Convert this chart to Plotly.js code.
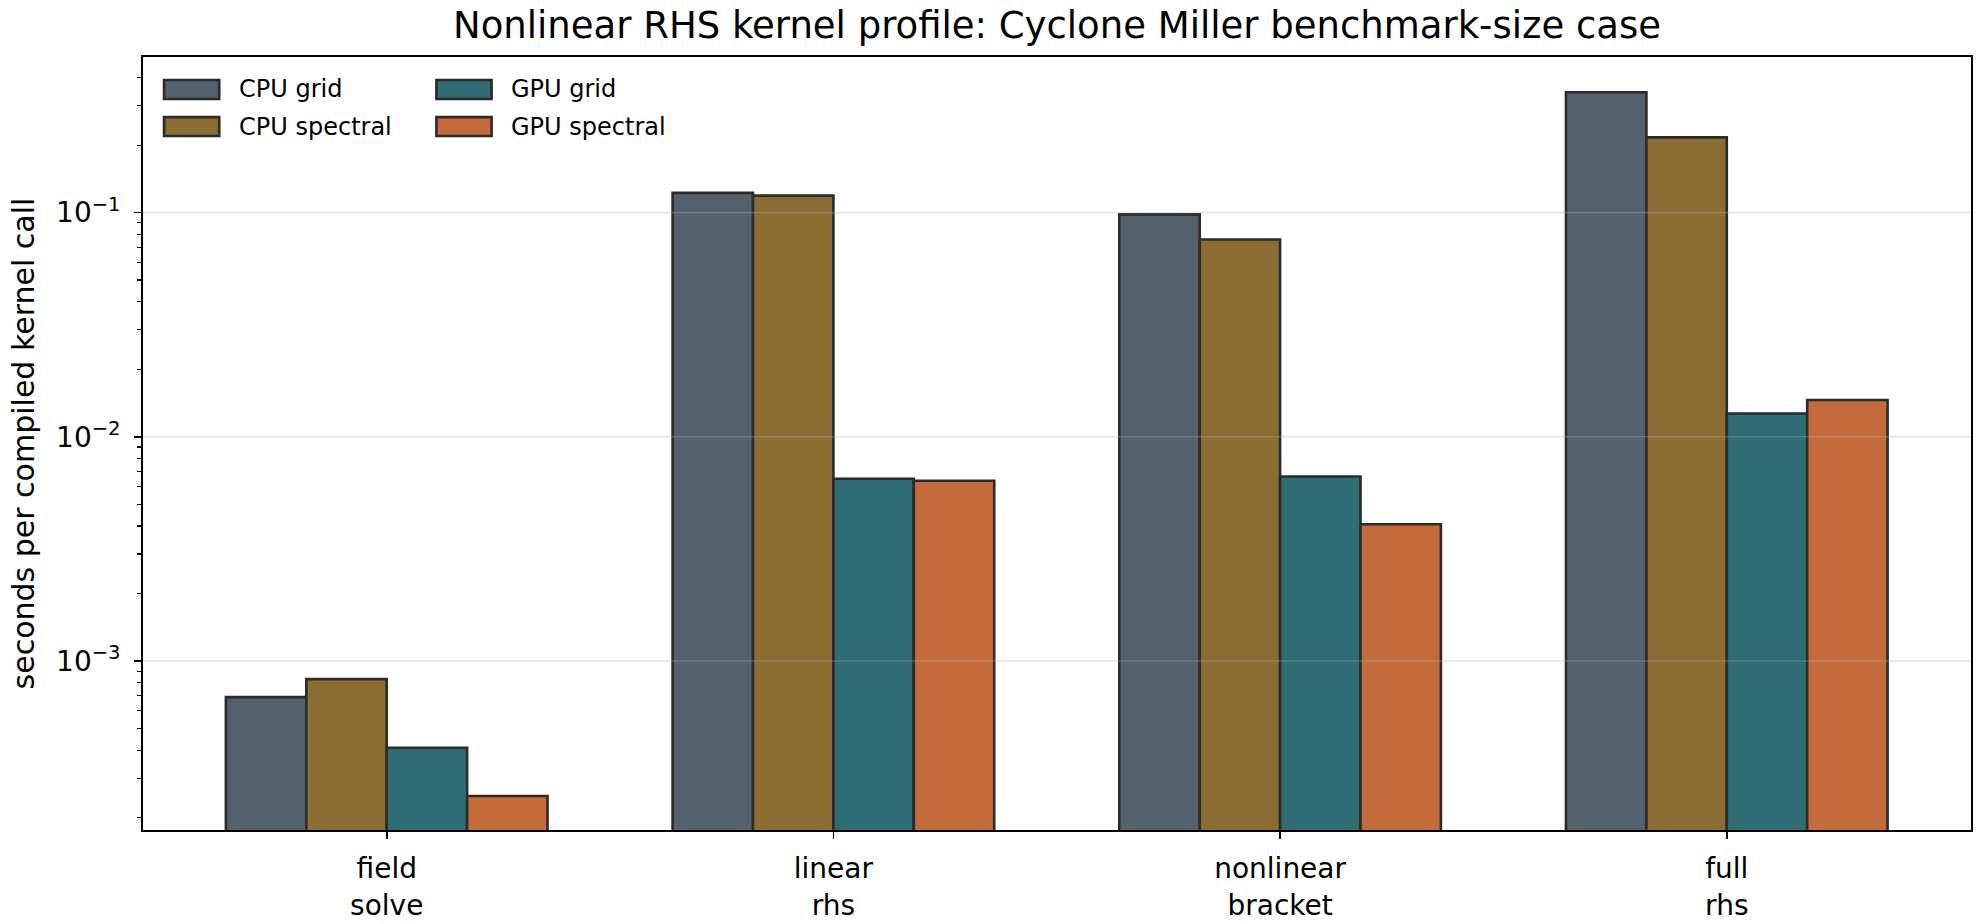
<!DOCTYPE html>
<html>
<head>
<meta charset="utf-8">
<script src="https://cdn.plot.ly/plotly-3.0.1.min.js"></script>
<style>
  html, body { margin: 0; padding: 0; background: #ffffff; }
  #chart { width: 1980px; height: 924px; }
</style>
</head>
<body>
<div id="chart"></div>
<script>
// Kernel timings, seconds per compiled call
const categories = ['field solve', 'linear rhs', 'nonlinear bracket', 'full rhs'];
const tickLabels = ['field<br>solve', 'linear<br>rhs', 'nonlinear<br>bracket', 'full<br>rhs'];
const seriesNames = ['CPU grid', 'CPU spectral', 'GPU grid', 'GPU spectral'];
const cpuGrid = [6.9e-4, 0.1225, 0.0982, 0.344];
const cpuSpectral = [8.3e-4, 0.119, 0.0759, 0.2165];
const gpuGrid = [4.1e-4, 6.5e-3, 6.65e-3, 0.0127];
const gpuSpectral = [2.5e-4, 6.37e-3, 4.07e-3, 0.0146];
const yTickValues = [1e-3, 1e-2, 1e-1];
const yTickLabels = ['10<sup>\u22123</sup>', '10<sup>\u22122</sup>', '10<sup>\u22121</sup>'];

const seriesValues = [cpuGrid, cpuSpectral, gpuGrid, gpuSpectral];
const seriesColors = ['#53616c', '#8b6d33', '#2f6c73', '#c46b3b'];
const edgeColor = '#2b2b2b';
const FONT = 'DejaVu Sans, Liberation Sans, sans-serif';

const traces = seriesNames.map((name, i) => ({
  type: 'bar',
  name: name,
  x: categories,
  y: seriesValues[i],
  marker: { color: seriesColors[i], line: { color: edgeColor, width: 2.6 } },
  showlegend: false,
  hoverinfo: 'x+y+name'
}));

// log-axis minor ticks at 2..9 of each decade
const minorTicks = [];
for (let e = -4; e <= -1; e++) {
  for (let m = 2; m <= 9; m++) minorTicks.push(m * Math.pow(10, e));
}

// light gridlines drawn over the bars
const shapes = yTickValues.map(v => ({
  type: 'line', xref: 'paper', x0: 0, x1: 1, yref: 'y', y0: v, y1: v,
  layer: 'above', line: { color: 'rgba(176,176,176,0.35)', width: 1.6 }
}));

// two-column legend in the upper-left corner
const annotations = [];
const legendCols = [0.0115, 0.1605];
const legendRows = [0.958, 0.910];
const swatchW = 0.0302, swatchH = 0.0245, textGap = 0.0095;
seriesNames.forEach((name, i) => {
  const col = Math.floor(i / 2), row = i % 2;
  const x0 = legendCols[col], yc = legendRows[row];
  shapes.push({
    type: 'rect', xref: 'paper', yref: 'paper',
    x0: x0, x1: x0 + swatchW, y0: yc - swatchH / 2, y1: yc + swatchH / 2,
    fillcolor: seriesColors[i], line: { color: edgeColor, width: 2.6 }, layer: 'above'
  });
  annotations.push({
    xref: 'paper', yref: 'paper', x: x0 + swatchW + textGap, y: yc,
    xanchor: 'left', yanchor: 'middle', showarrow: false, text: name,
    font: { family: FONT, size: 24, color: '#000000' }
  });
});

const layout = {
  width: 1980, height: 924,
  margin: { l: 143, r: 9, t: 57, b: 94, pad: 0 },
  paper_bgcolor: '#ffffff', plot_bgcolor: '#ffffff',
  font: { family: FONT, color: '#000000' },
  title: {
    text: 'Nonlinear RHS kernel profile: Cyclone Miller benchmark-size case',
    font: { family: FONT, size: 37, color: '#000000' },
    x: 0.5, xref: 'paper', xanchor: 'center',
    y: 1 - 25 / 924, yref: 'container', yanchor: 'middle'
  },
  barmode: 'group', bargap: 0.28, bargroupgap: 0,
  showlegend: false,
  xaxis: {
    type: 'category',
    range: [-0.5456, 3.5467],
    tickvals: categories, ticktext: tickLabels,
    ticks: 'outside', ticklen: 7, tickwidth: 1.6, tickcolor: '#000000',
    showline: true, linecolor: '#000000', linewidth: 1.8, mirror: true,
    showgrid: false, zeroline: false,
    tickfont: { family: FONT, size: 28, color: '#000000' },
    ticklabelstandoff: 6
  },
  yaxis: {
    type: 'log',
    range: [-3.754, -0.306],
    tickvals: yTickValues, ticktext: yTickLabels,
    ticks: 'outside', ticklen: 7, tickwidth: 1.6, tickcolor: '#000000',
    minor: { tickvals: minorTicks, ticks: 'outside', ticklen: 4, tickwidth: 1.2, tickcolor: '#000000', showgrid: false },
    showline: true, linecolor: '#000000', linewidth: 1.8, mirror: true,
    showgrid: false, zeroline: false,
    tickfont: { family: FONT, size: 28, color: '#000000' },
    ticklabelstandoff: 8,
    title: {
      text: 'seconds per compiled kernel call',
      font: { family: FONT, size: 30, color: '#000000' },
      standoff: 12
    },
    automargin: false
  },
  shapes: shapes,
  annotations: annotations
};

Plotly.newPlot('chart', traces, layout, { displayModeBar: false, staticPlot: true });
</script>
</body>
</html>
